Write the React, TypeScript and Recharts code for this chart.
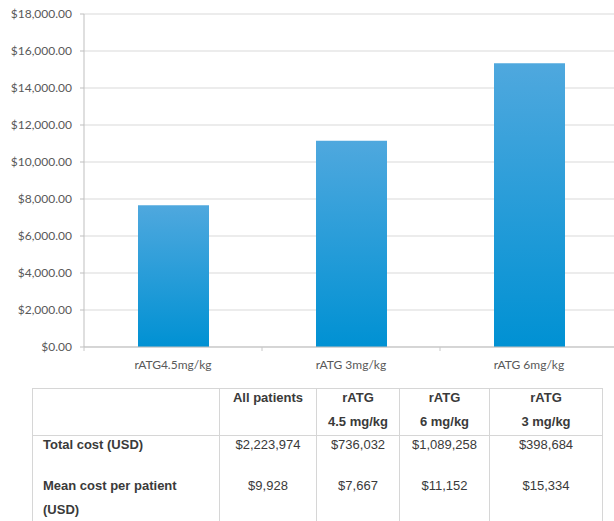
import { Bar, BarChart, CartesianGrid, XAxis, YAxis } from "recharts";

// bar chart: mean cost per patient by dose group
const doseLabels = ["rATG4.5mg/kg", "rATG 3mg/kg", "rATG 6mg/kg"];
const meanCostValues = [7667, 11152, 15334];
const yTicks = [0, 2000, 4000, 6000, 8000, 10000, 12000, 14000, 16000, 18000];

// summary table under the chart
const tableHeaders = [["All patients"], ["rATG", "4.5 mg/kg"], ["rATG", "6 mg/kg"], ["rATG", "3 mg/kg"]];
const totalCostRow = ["$2,223,974", "$736,032", "$1,089,258", "$398,684"];
const meanCostRow = ["$9,928", "$7,667", "$11,152", "$15,334"];
const colWidths = [187, 97, 83, 90, 113];

const chartData = doseLabels.map((name, i) => ({ name, cost: meanCostValues[i] }));

const AXIS_W = 84;
const PLOT_W = 534;
const HALF_BAND = PLOT_W / doseLabels.length / 2;
const LABEL_FONT = "Lato, 'Open Sans', sans-serif";

const money = (v: number) =>
  "$" + v.toLocaleString("en-US", { minimumFractionDigits: 2, maximumFractionDigits: 2 });

// category label plus the small divider tick between categories
function CategoryTick({ x, y, payload }: any) {
  return (
    <g>
      <line x1={x - HALF_BAND} y1={y} x2={x - HALF_BAND} y2={y + 4} stroke="#c8c8c8" />
      <text x={x} y={y + 22} textAnchor="middle" fill="#595959" fontSize={12} fontFamily={LABEL_FONT}>
        {payload.value}
      </text>
    </g>
  );
}

const border = "1px solid #d6d6d6";
const cellBase: React.CSSProperties = {
  border,
  padding: 0,
  verticalAlign: "top",
  lineHeight: "24px",
  textAlign: "center",
};
const inner: React.CSSProperties = { marginTop: -3 };

export default function App() {
  return (
    <div
      style={{
        position: "fixed",
        left: 0,
        top: 0,
        width: 614,
        height: 521,
        overflow: "hidden",
        background: "#fff",
      }}
    >
      <div style={{ position: "absolute", left: 0, top: 0 }}>
        <BarChart
          width={AXIS_W + PLOT_W + 2}
          height={377}
          data={chartData}
          margin={{ top: 14, right: 2, left: 0, bottom: 0 }}
        >
          <defs>
            <linearGradient id="barFill" x1="0" y1="0" x2="0" y2="1">
              <stop offset="0%" stopColor="#4fa8de" />
              <stop offset="100%" stopColor="#0091d3" />
            </linearGradient>
          </defs>
          <CartesianGrid vertical={false} stroke="#d9d9d9" />
          <XAxis
            dataKey="name"
            height={30}
            tickSize={0}
            tickMargin={0}
            stroke="#bfbfbf"
            tick={<CategoryTick />}
            interval={0}
          />
          <YAxis
            width={AXIS_W}
            domain={[0, 18000]}
            ticks={yTicks}
            tickFormatter={money}
            tickSize={4}
            tickMargin={8}
            stroke="#bfbfbf"
            tick={{ fill: "#595959", fontSize: 12, fontFamily: LABEL_FONT }}
          />
          <Bar dataKey="cost" fill="url(#barFill)" barSize={71} isAnimationActive={false} />
        </BarChart>
      </div>

      <table
        style={{
          position: "absolute",
          left: 32,
          top: 388,
          width: 570,
          borderCollapse: "collapse",
          tableLayout: "fixed",
          fontFamily: "'Liberation Sans', Arial, sans-serif",
          fontSize: 13,
          color: "#3a3a3a",
        }}
      >
        <colgroup>
          {colWidths.map((w, i) => (
            <col key={i} style={{ width: w }} />
          ))}
        </colgroup>
        <tbody>
          <tr style={{ height: 47 }}>
            <td style={cellBase} />
            {tableHeaders.map((lines, i) => (
              <td key={i} style={{ ...cellBase, fontWeight: "bold" }}>
                <div style={inner}>
                  {lines.map((l, j) => (
                    <div key={j}>{l}</div>
                  ))}
                </div>
              </td>
            ))}
          </tr>
          <tr style={{ height: 41 }}>
            <td style={{ ...cellBase, borderBottom: "none", textAlign: "left", paddingLeft: 10, fontWeight: "bold" }}>
              <div style={inner}>Total cost (USD)</div>
            </td>
            {totalCostRow.map((v, i) => (
              <td key={i} style={{ ...cellBase, borderBottom: "none" }}>
                <div style={inner}>{v}</div>
              </td>
            ))}
          </tr>
          <tr style={{ height: 70 }}>
            <td style={{ ...cellBase, borderTop: "none", textAlign: "left", paddingLeft: 10, fontWeight: "bold" }}>
              <div style={inner}>
                Mean cost per patient
                <br />
                (USD)
              </div>
            </td>
            {meanCostRow.map((v, i) => (
              <td key={i} style={{ ...cellBase, borderTop: "none" }}>
                <div style={inner}>{v}</div>
              </td>
            ))}
          </tr>
        </tbody>
      </table>
    </div>
  );
}
